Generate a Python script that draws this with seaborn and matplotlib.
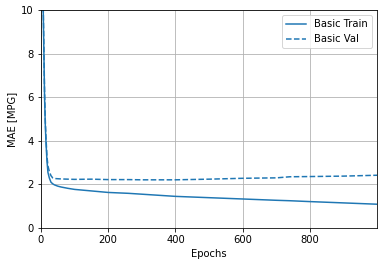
import matplotlib
matplotlib.use("Agg")
import matplotlib.pyplot as plt
import seaborn as sns
import pandas as pd

epochs = [0, 3, 5, 7, 9, 11, 13, 15, 18, 21, 25, 30, 35, 40, 50, 60, 80, 100, 150,
          200, 260, 300, 400, 500, 600, 700, 740, 800, 900, 999]
train_mae = [20.0, 15.0, 12.0, 10.0, 8.0, 6.0, 4.8, 4.0, 3.1, 2.55, 2.3, 2.1, 2.03, 1.98,
             1.92, 1.88, 1.82, 1.77, 1.70, 1.63, 1.59, 1.55, 1.45, 1.39, 1.33, 1.27,
             1.25, 1.21, 1.15, 1.09]
val_mae = [20.0, 15.0, 12.0, 10.2, 8.2, 6.2, 5.0, 4.2, 3.3, 2.85, 2.6, 2.4, 2.3, 2.27,
           2.26, 2.25, 2.24, 2.23, 2.24, 2.22, 2.22, 2.21, 2.21, 2.24, 2.28, 2.30,
           2.35, 2.36, 2.38, 2.42]

series_names = ["Basic Train", "Basic Val"]

df = pd.DataFrame({"epoch": epochs, "train": train_mae, "val": val_mae})

fig = plt.figure(figsize=(382 / 72, 266 / 72), dpi=72)
ax = fig.add_axes([0.107, 0.143, 0.880, 0.819])
color = "#1f77b4"
sns.lineplot(data=df, x="epoch", y="train", ax=ax, color=color, linewidth=1.5,
             label=series_names[0])
sns.lineplot(data=df, x="epoch", y="val", ax=ax, color=color, linewidth=1.5,
             linestyle="--", label=series_names[1])
ax.set_xlim(0, 999)
ax.set_ylim(0, 10)
ax.set_xlabel("Epochs", fontsize=10)
ax.set_ylabel("MAE [MPG]", fontsize=10)
ax.tick_params(labelsize=10)
ax.grid(True)
ax.legend(loc="upper right", fontsize=10)
fig.savefig("out.png", dpi=72)
